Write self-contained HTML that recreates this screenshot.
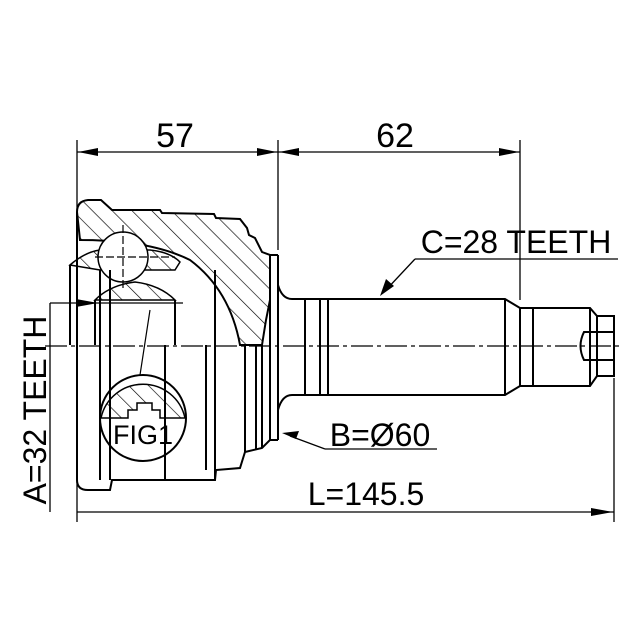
<!DOCTYPE html>
<html><head><meta charset="utf-8"><style>html,body{margin:0;padding:0;background:#fff}svg{display:block}</style></head>
<body>
<svg width="640" height="640" viewBox="0 0 640 640" xmlns="http://www.w3.org/2000/svg" font-family="Liberation Sans, sans-serif">
<defs>
<pattern id="h" width="14" height="14" patternUnits="userSpaceOnUse" patternTransform="rotate(-45)">
<line x1="0" y1="0" x2="0" y2="14" stroke="#000" stroke-width="1.3"/></pattern>
</defs>
<rect width="640" height="640" fill="#fff"/>
<g stroke="#000" fill="none" stroke-width="1.3">
<line x1="77" y1="140" x2="77" y2="522"/>
<line x1="278" y1="140" x2="278" y2="250"/>
<line x1="520" y1="140" x2="520" y2="300"/>
<line x1="614" y1="378" x2="614" y2="522"/>
<line x1="77" y1="152" x2="520" y2="152"/>
<line x1="77" y1="512" x2="614" y2="512"/>
<line x1="50" y1="303" x2="50" y2="512"/>
<line x1="50" y1="303" x2="183" y2="303"/>
<line x1="415" y1="259" x2="618" y2="259"/>
<line x1="415" y1="259" x2="385" y2="291"/>
<line x1="325" y1="449" x2="437" y2="449"/>
<line x1="325" y1="449" x2="290" y2="436"/>
</g>
<g fill="#000">
<path d="M78,152 l20,-4 v8z M277,152 l-20,-4 v8z M279,152 l20,-4 v8z M519,152 l-20,-4 v8z"/>
<path d="M613,512 l-22,-4 v8z"/>
<path d="M98,303 l-22,-4 v8z"/>
<path d="M380,296 l6,-17 l8,7z"/>
<path d="M282,433 l17,-2 l-3,8z"/>
</g>
<path d="M77,212 Q77,201 88,200 L101,200 L112,210 L160,210 L162,213 L214,214 L216,218 L240,219 L247,228 L249,235 L255,238 L262,252 L270,255 L270,300 L266,320 L262,345 L240,345 Q230,290 190,260 Q150,240 80,240 Z" fill="url(#h)" stroke="#000" stroke-width="2"/>
<path d="M95,300 Q110,285 135,282 Q160,285 175,300 Z" fill="url(#h)" stroke="#000" stroke-width="1.5"/>
<path d="M70,265 Q85,252 100,250 L150,250 Q170,252 180,262 L175,270 L100,270 Z" fill="url(#h)" stroke="#000" stroke-width="1.5"/>
<circle cx="123" cy="257" r="25" fill="#fff" stroke="#000" stroke-width="1.5"/>
<g stroke="#000" stroke-width="1.2" stroke-dasharray="8,3">
<line x1="95" y1="257" x2="175" y2="257"/><line x1="123" y1="225" x2="123" y2="290"/></g>
<g stroke="#000" fill="none" stroke-width="2">
<path d="M77,212 L77,480 Q77,490 88,490 L110,490 L112,480 L215,480 L216,470 L240,468 L245,452 L262,448 L270,440 L270,255"/>
<line x1="270" y1="255" x2="278" y2="255"/><line x1="278" y1="255" x2="278" y2="440"/><line x1="270" y1="440" x2="278" y2="440"/>
<line x1="262" y1="345" x2="262" y2="448"/>
<line x1="256" y1="345" x2="256" y2="450"/>
<line x1="245" y1="345" x2="245" y2="452"/>
<line x1="215" y1="270" x2="215" y2="480"/>
<line x1="206" y1="345" x2="206" y2="470"/>
<line x1="100" y1="270" x2="100" y2="480"/>
<line x1="110" y1="270" x2="110" y2="480"/>
<line x1="95" y1="300" x2="95" y2="345"/>
<line x1="110" y1="300" x2="110" y2="345"/>
<line x1="175" y1="300" x2="175" y2="345"/>
<line x1="165" y1="345" x2="165" y2="480"/>
<line x1="70" y1="265" x2="70" y2="345"/>
<path d="M278,285 Q282,299 292,299 L505,299 L520,308 L590,308 L597,316 L614,316 L614,376 L597,376 L590,386 L520,386 L505,395 L292,395 Q282,395 278,410"/>
<line x1="305" y1="299" x2="305" y2="395"/><line x1="320" y1="299" x2="320" y2="395"/><line x1="328" y1="299" x2="328" y2="395"/>
<line x1="505" y1="299" x2="505" y2="395"/>
<line x1="520" y1="308" x2="520" y2="386"/><line x1="533" y1="308" x2="533" y2="386"/>
<line x1="590" y1="308" x2="590" y2="386"/><line x1="597" y1="316" x2="597" y2="376"/>
<path d="M614,332 L584,332 Q577,346 584,360 L614,360"/>
</g>
<line x1="45" y1="346" x2="622" y2="346" stroke="#000" stroke-width="1.3" stroke-dasharray="22,4,4,4"/>
<line x1="140" y1="375" x2="150" y2="310" stroke="#000" stroke-width="1.2"/>
<path d="M101,418 L128,418 L128,410 L137,410 L137,403 L152,403 L152,410 L160,410 L160,418 L185,418 A43,43 0 0 0 101,418 Z" fill="url(#h)" stroke="#000" stroke-width="1.5"/>
<circle cx="143" cy="418" r="43" fill="none" stroke="#000" stroke-width="2"/>
<g fill="#000">
<text x="143" y="444" font-size="27" text-anchor="middle">FIG1</text>
<text x="175" y="147" font-size="34" text-anchor="middle">57</text>
<text x="395" y="147" font-size="34" text-anchor="middle">62</text>
<text x="516" y="253" font-size="32" text-anchor="middle">C=28 TEETH</text>
<text x="380" y="446" font-size="32" text-anchor="middle">B=Ø60</text>
<text x="366" y="505" font-size="32" text-anchor="middle">L=145.5</text>
<text transform="translate(46,410) rotate(-90)" font-size="32" text-anchor="middle">A=32 TEETH</text>
</g>
</svg>
</body></html>
